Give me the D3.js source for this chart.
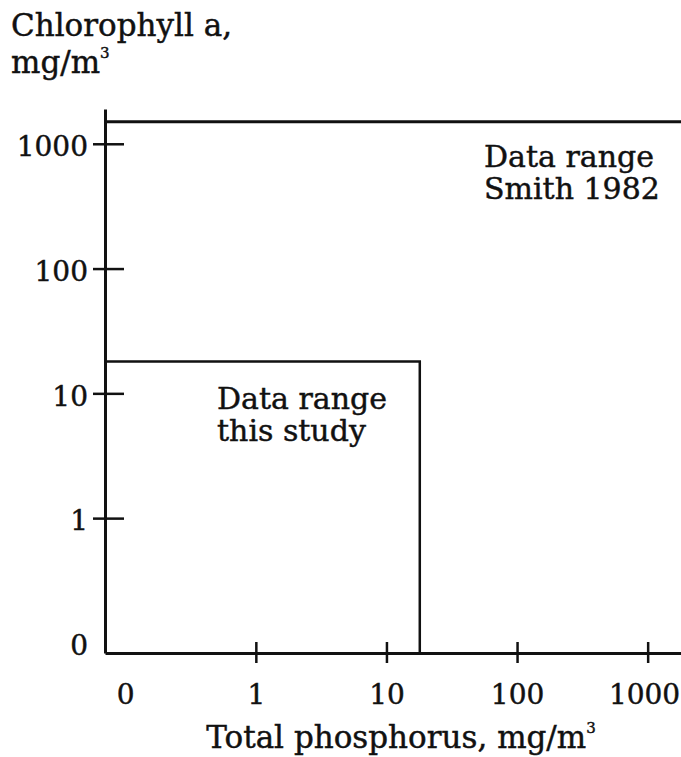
<!DOCTYPE html>
<html>
<head>
<meta charset="utf-8">
<script src="https://cdn.jsdelivr.net/npm/d3@7"></script>
<style>
  html, body { margin: 0; padding: 0; background: #fff; }
  svg { display: block; }
  text { font-family: "DejaVu Serif", "Liberation Serif", serif; fill: #111; stroke: #111; stroke-width: 0.45px; }
</style>
</head>
<body>
<svg id="chart" width="681" height="757"></svg>
<script>
// Tick values on both log axes; "0" sits one decade below 1.
const xTickValues = [0.1, 1, 10, 100, 1000];
const xTickLabels = ["0", "1", "10", "100", "1000"];
const yTickValues = [0.1, 1, 10, 100, 1000];
const yTickLabels = ["0", "1", "10", "100", "1000"];

// Data ranges (total phosphorus, chlorophyll a), mg/m3
const studyRange = { tp: 18, chl: 18 };
const smithRange = { tp: 2000, chl: 1500 };

const rangeLabels = [
  { name: "smith", lines: ["Data range", "Smith 1982"] },
  { name: "study", lines: ["Data range", "this study"] }
];

const svg = d3.select("#chart");

const x = d3.scaleLog().domain([0.07, 1800]).range([105, 681]);
const y = d3.scaleLog().domain([0.083, 1900]).range([653, 109]);

const ink = "#111";

// Y axis: ticks cross the axis line
const yAxis = svg.append("g")
  .attr("transform", `translate(${x.range()[0]},0)`)
  .call(d3.axisLeft(y).tickValues(yTickValues)
    .tickFormat((d, i) => yTickLabels[i]).tickSizeOuter(0).tickSize(0).tickPadding(17));
yAxis.select(".domain").attr("stroke", ink).attr("stroke-width", 3);
yAxis.selectAll(".tick line")
  .attr("x1", -12).attr("x2", 19)
  .attr("stroke", ink).attr("stroke-width", 2.5)
  .attr("display", d => d < 1 ? "none" : null);
yAxis.selectAll(".tick text")
  .attr("font-size", 28).attr("font-family", "DejaVu Serif")
  .attr("fill", ink).attr("dy", "0.42em");

// X axis
const xAxis = svg.append("g")
  .attr("transform", `translate(0,${y.range()[0]})`)
  .call(d3.axisBottom(x).tickValues(xTickValues)
    .tickFormat((d, i) => xTickLabels[i]).tickSizeOuter(0).tickSize(0).tickPadding(31));
xAxis.select(".domain").attr("stroke", ink).attr("stroke-width", 3);
xAxis.selectAll(".tick line")
  .attr("y1", -11).attr("y2", 10)
  .attr("stroke", ink).attr("stroke-width", 2.5)
  .attr("display", d => d < 1 ? "none" : null);
xAxis.selectAll(".tick text")
  .attr("font-size", 28).attr("font-family", "DejaVu Serif")
  .attr("fill", ink);
// the last label stays inside the right edge
xAxis.selectAll(".tick text")
  .filter(d => d === 1000)
  .attr("text-anchor", "end").attr("dx", 32);

// Smith 1982 range: upper bound across the whole phosphorus axis
svg.append("path")
  .attr("d", `M${x(x.domain()[0])},${y(smithRange.chl)}H${x(smithRange.tp)}`)
  .attr("fill", "none").attr("stroke", ink).attr("stroke-width", 3);

// This study's range
svg.append("path")
  .attr("d", `M${x(x.domain()[0])},${y(studyRange.chl)}H${x(studyRange.tp)}V${y(y.domain()[0])}`)
  .attr("fill", "none").attr("stroke", ink).attr("stroke-width", 2.5);

// Range labels
const labelPos = { smith: { x: 484, y: 167 }, study: { x: 217, y: 409 } };
rangeLabels.forEach(r => {
  const t = svg.append("text")
    .attr("x", labelPos[r.name].x).attr("y", labelPos[r.name].y)
    .attr("font-size", 30);
  r.lines.forEach((line, i) => {
    t.append("tspan").attr("x", labelPos[r.name].x).attr("dy", i ? 32 : 0).text(line);
  });
});

// Y axis title
const yTitle = svg.append("text").attr("x", 11).attr("y", 36).attr("font-size", 31);
yTitle.append("tspan").attr("x", 11).text("Chlorophyll a,");
yTitle.append("tspan").attr("x", 11).attr("dy", 37).text("mg/m");
yTitle.append("tspan").attr("font-size", 15).attr("dy", -15).text("3");

// X axis title
const xTitle = svg.append("text").attr("x", 401).attr("y", 748)
  .attr("text-anchor", "middle").attr("font-size", 31);
xTitle.append("tspan").text("Total phosphorus, mg/m");
xTitle.append("tspan").attr("font-size", 15).attr("dy", -15).text("3");
</script>
</body>
</html>
